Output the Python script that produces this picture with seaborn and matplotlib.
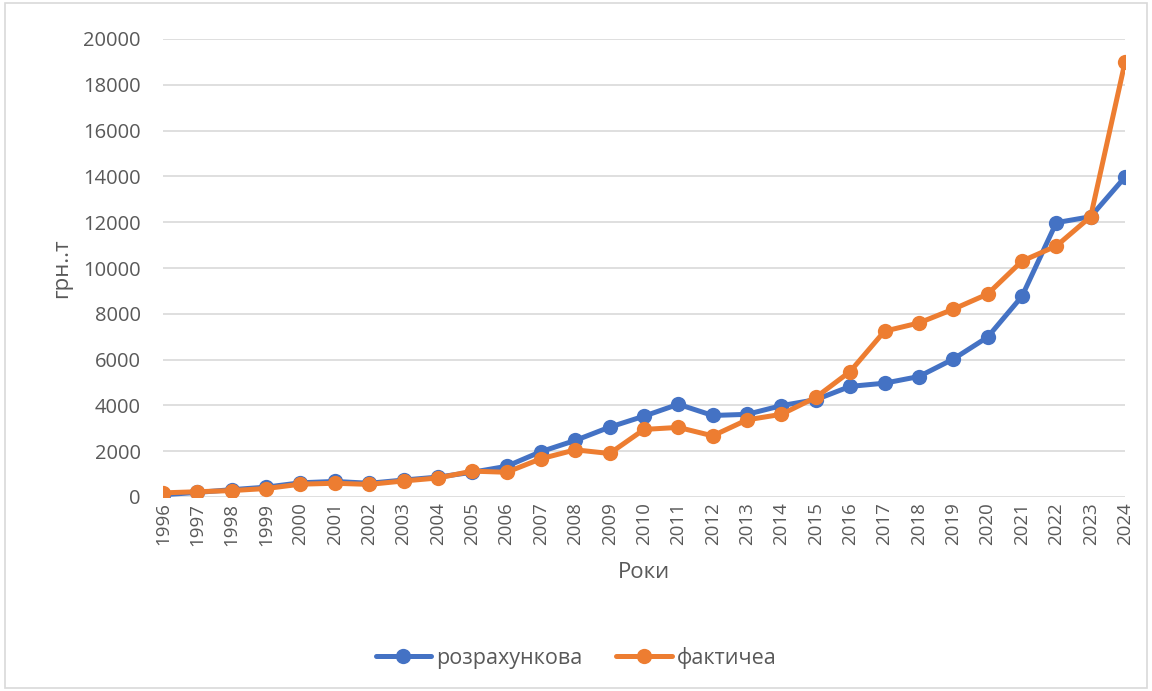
import pandas as pd
import matplotlib.pyplot as plt
import seaborn as sns

years = list(range(1996, 2025))

calc_values = [100, 200, 320, 430, 620, 680, 600, 740, 870, 1080,
               1340, 1980, 2470, 3050, 3530, 4050, 3560, 3610, 3990, 4250,
               4830, 4970, 5260, 6020, 6980, 8760, 11980, 12240, 13970]

actual_values = [180, 230, 280, 370, 560, 600, 550, 700, 830, 1130,
                 1080, 1670, 2060, 1900, 2950, 3040, 2670, 3370, 3610, 4350,
                 5480, 7240, 7600, 8200, 8860, 10300, 10960, 12240, 18990]

series_names = ["розрахункова", "фактичеа"]
colors = ["#4472C4", "#ED7D31"]
y_ticks = list(range(0, 20001, 2000))

df = pd.DataFrame({
    "year": years * 2,
    "value": calc_values + actual_values,
    "series": [series_names[0]] * len(years) + [series_names[1]] * len(years),
})

sns.set_theme(style="white")
plt.rcParams["font.family"] = ["Open Sans", "DejaVu Sans"]
text_color = "#595959"

fig = plt.figure(figsize=(11.52, 6.91), dpi=100)
ax = fig.add_axes([163 / 1152, 1 - 497 / 691, (1125 - 163) / 1152, (497 - 39) / 691])

sns.lineplot(data=df, x="year", y="value", hue="series", palette=colors,
             marker="o", markersize=11, markeredgewidth=0, linewidth=3.6,
             ax=ax, legend=True)

ax.set_xlim(1996, 2024)
ax.set_ylim(0, 20000)
ax.set_yticks(y_ticks)
ax.set_yticklabels([str(v) for v in y_ticks], fontsize=14.5, color=text_color)
ax.set_xticks(years)
ax.set_xticklabels([str(y) for y in years], rotation=90, fontsize=13.5, color=text_color)
ax.tick_params(axis="y", length=0, pad=16)
ax.tick_params(axis="x", length=0, pad=4)
ax.yaxis.grid(True, color="#d9d9d9", linewidth=1.2)
ax.set_axisbelow(True)
for side in ["top", "right", "left", "bottom"]:
    ax.spines[side].set_visible(False)

ax.set_xlabel("Роки", fontsize=16, color=text_color, labelpad=12)
ax.set_ylabel("грн..т", fontsize=16, color=text_color, labelpad=8)

handles, labels = ax.get_legend_handles_labels()
ax.get_legend().remove()
fig.legend(handles, labels, loc="center", bbox_to_anchor=(0.5, 1 - 658 / 691),
           ncol=2, frameon=False, fontsize=15.5, labelcolor=text_color,
           handlelength=2.6, columnspacing=1.6, handletextpad=0.2)

border = plt.Rectangle((0.004, 0.004), 0.992, 0.992, transform=fig.transFigure,
                       fill=False, edgecolor="#d9d9d9", linewidth=1.2)
fig.patches.append(border)

fig.savefig("out.png", dpi=100)
